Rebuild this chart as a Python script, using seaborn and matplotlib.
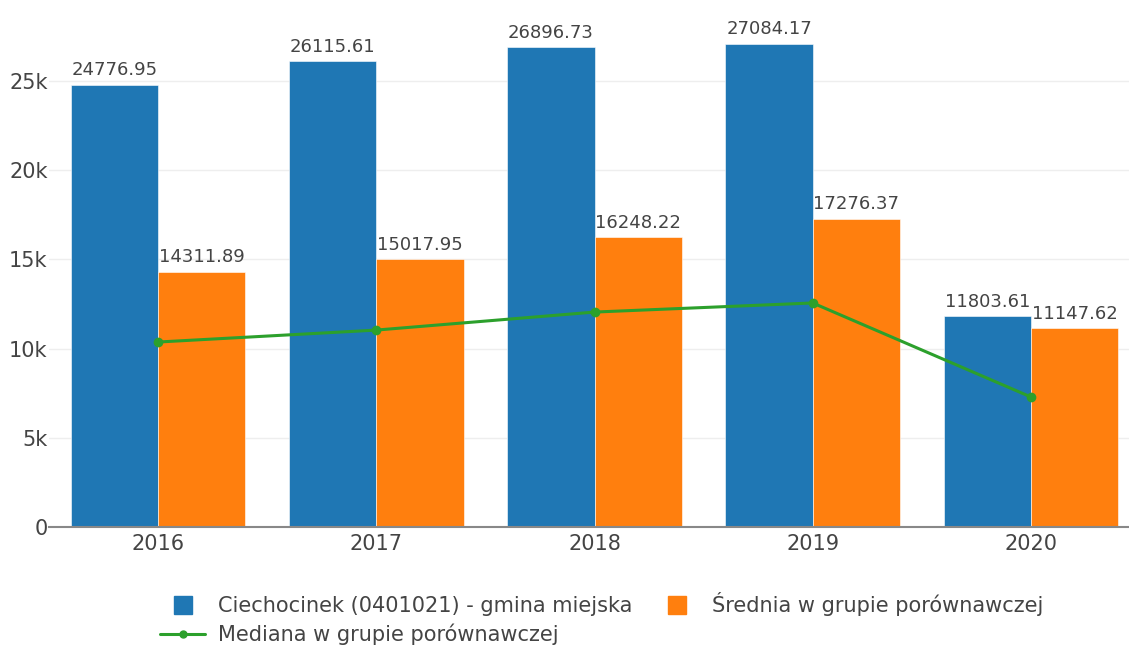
import numpy as np
import pandas as pd
import matplotlib
matplotlib.use("Agg")
import matplotlib.pyplot as plt
import seaborn as sns
from matplotlib.lines import Line2D

years = ["2016", "2017", "2018", "2019", "2020"]
ciechocinek = [24776.95, 26115.61, 26896.73, 27084.17, 11803.61]
srednia = [14311.89, 15017.95, 16248.22, 17276.37, 11147.62]
mediana = [10370, 11040, 12050, 12560, 7290]

name_a = "Ciechocinek (0401021) - gmina miejska"
name_b = "Średnia w grupie porównawczej"
name_c = "Mediana w grupie porównawczej"

c_blue, c_orange, c_green = "#1f77b4", "#ff7f0e", "#2ca02c"
txt = "#444444"

sns.set_theme(style="white")
plt.rcParams["font.family"] = ["DejaVu Sans"]

df = pd.DataFrame({
    "year": years * 2,
    "value": ciechocinek + srednia,
    "series": [name_a] * 5 + [name_b] * 5,
})

fig = plt.figure(figsize=(11.29, 6.46), dpi=100)
ax = fig.add_axes([49 / 1129, 1 - 527 / 646, (1140 - 49) / 1129, (527 - 19) / 646])

sns.barplot(data=df, x="year", y="value", hue="series", order=years,
            hue_order=[name_a, name_b], palette=[c_blue, c_orange],
            width=0.8, saturation=1, ax=ax, legend=False,
            edgecolor="white", linewidth=0.4)

xs = np.arange(len(years))
sns.lineplot(x=xs, y=mediana, ax=ax, color=c_green, linewidth=2.2,
             marker="o", markersize=7, markeredgewidth=0)

for cont in ax.containers:
    ax.bar_label(cont, fmt="%.2f", padding=4, fontsize=13, color=txt)

ax.set_xlim(-0.5, 4.5)
ax.set_ylim(0, 28480)
ax.set_yticks([0, 5000, 10000, 15000, 20000, 25000])
ax.set_yticklabels(["0", "5k", "10k", "15k", "20k", "25k"])
ax.grid(axis="y", color="#eeeeee", linewidth=1)
ax.set_axisbelow(True)
ax.set_xlabel("")
ax.set_ylabel("")
for s in ["top", "right", "left"]:
    ax.spines[s].set_visible(False)
ax.spines["bottom"].set_color("#888888")
ax.spines["bottom"].set_linewidth(1.5)
ax.tick_params(axis="y", length=0, labelsize=15, labelcolor=txt, pad=1)
ax.tick_params(axis="x", length=0, labelsize=15, labelcolor=txt, pad=5)

handles = [
    Line2D([], [], marker="s", linestyle="none", markersize=13, color=c_blue),
    Line2D([], [], marker="o", color=c_green, linewidth=2.2, markersize=5),
    Line2D([], [], marker="s", linestyle="none", markersize=13, color=c_orange),
]
leg = fig.legend(handles, [name_a, name_c, name_b], ncol=2, loc="upper left",
                 bbox_to_anchor=(0.1248, 0.112), frameon=False, fontsize=15,
                 labelcolor=txt, handlelength=2.2, columnspacing=1.03,
                 labelspacing=0.35, handletextpad=0.6)

fig.savefig("out.png", dpi=100)
